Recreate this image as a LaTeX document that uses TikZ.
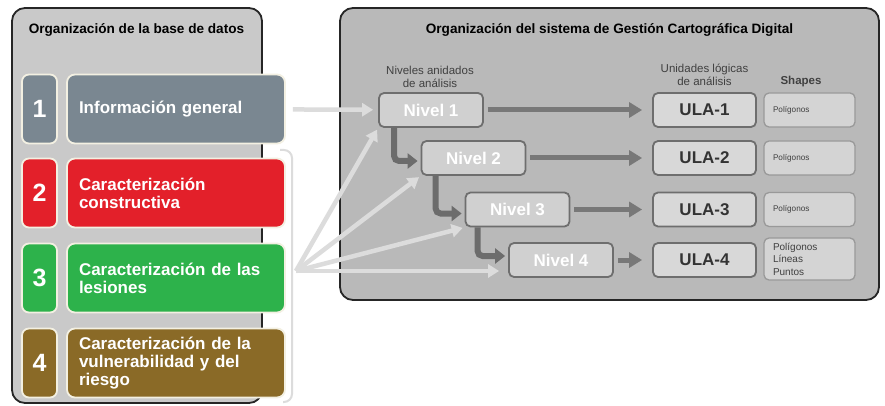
\documentclass[tikz,border=0pt]{standalone}
\usepackage{fontspec}
\setmainfont{Liberation Sans}
\usetikzlibrary{arrows.meta}

\definecolor{panelL}{HTML}{C9C9C9}
\definecolor{panelR}{HTML}{B9B9B9}
\definecolor{rim}{HTML}{F3F0E2}
\definecolor{cgen}{HTML}{7A8791}
\definecolor{cconst}{HTML}{E3202A}
\definecolor{cles}{HTML}{2DB24B}
\definecolor{criesgo}{HTML}{8A6A27}
\definecolor{nivfill}{HTML}{D0D0D0}
\definecolor{ulafill}{HTML}{D8D8D8}
\definecolor{shpfill}{HTML}{D4D4D4}
\definecolor{boxline}{HTML}{6E6E6E}
\definecolor{flowdark}{HTML}{787878}
\definecolor{flowlight}{HTML}{DCDCDC}

\tikzset{
  panel/.style={draw=black!85, line width=1.8pt, rounded corners=13pt},
  paneltitle/.style={font=\bfseries\fontsize{13.6}{15}\selectfont},
  hdr/.style={align=center, text=black!75, font=\fontsize{11.5}{13}\selectfont},
  numbox/.style={draw=rim, line width=1.8pt, rounded corners=7pt,
    minimum width=35pt, minimum height=69pt, inner sep=0pt,
    text=white, font=\bfseries\fontsize{25}{25}\selectfont},
  catbox/.style={draw=rim, line width=1.8pt, rounded corners=8pt,
    minimum height=69pt, text width=194pt, inner xsep=12pt, align=left,
    text=white, font=\bfseries\fontsize{17}{18}\selectfont},
  nivbox/.style={draw=boxline, line width=1.8pt, rounded corners=5pt, fill=nivfill,
    minimum width=104pt, minimum height=34pt, text=white,
    font=\bfseries\fontsize{17}{17}\selectfont},
  ulabox/.style={nivbox, fill=ulafill, minimum width=103pt, text=black!80},
  shpbox/.style={draw=black!40, line width=1.3pt, rounded corners=5pt, fill=shpfill,
    minimum width=91pt, minimum height=34pt, text width=73pt, inner xsep=9pt,
    align=left, text=black!75, font=\fontsize{8.2}{9}\selectfont},
  darrow/.style={draw=flowdark, line width=5pt, -{Triangle[length=13pt,width=15pt]},
    shorten <=4pt, shorten >=10pt},
  elbow/.style={draw=flowdark!90!black, line width=6pt, rounded corners=5pt,
    -{Triangle[length=10pt,width=15pt]}, shorten >=3pt},
  larrow/.style={draw=flowlight, line width=4.5pt, -{Triangle[length=11pt,width=13pt]}}
}

\begin{document}
\begin{tikzpicture}[x=1pt,y=-1pt]
\useasboundingbox[fill=white] (0,0) rectangle (885,406);

% the two panels
\draw[panel, fill=panelL] (12,8) rectangle (262,403);
\draw[panel, fill=panelR] (340,8) rectangle (879,300);
\node[paneltitle] (tleft) at (136.5,30) {Organización de la base de datos};
\node[paneltitle] (tright) at (609.5,30) {Organización del sistema de Gestión Cartográfica Digital};

% bracket round 2-4
\draw[flowlight, line width=2pt, rounded corners=8pt] (280,150) -| (292,402) -- (283,402);

% base de datos
\node[numbox, fill=cgen] (num1) at (39.5,109) {1};
\node[catbox, fill=cgen] (cat1) at (176,109) {Información general};
\node[numbox, fill=cconst] (num2) at (39.5,193) {2};
\node[catbox, fill=cconst] (cat2) at (176,193) {Caracterización\\constructiva};
\node[numbox, fill=cles] (num3) at (39.5,278) {3};
\node[catbox, fill=cles] (cat3) at (176,278) {Caracterización de las\\lesiones};
\node[numbox, fill=criesgo] (num4) at (39.5,363) {4};
\node[catbox, fill=criesgo] (cat4) at (176,363) {Caracterización de la\\vulnerabilidad y del\\riesgo};

% headers
\node[hdr] (hniv) at (430,77) {Niveles anidados\\de análisis};
\node[hdr] (hula) at (704.5,75) {Unidades lógicas\\de análisis};
\node[hdr, font=\bfseries\fontsize{11.5}{13}\selectfont] (hshp) at (801,82) {Shapes};

% niveles, ULA, shapes
\node[nivbox] (n1) at (431,110) {Nivel 1};
\node[nivbox] (n2) at (473.5,158) {Nivel 2};
\node[nivbox] (n3) at (517.5,209.5) {Nivel 3};
\node[nivbox] (n4) at (561,260) {Nivel 4};

\node[ulabox] (ula1) at (704.5,110) {ULA-1};
\node[ulabox] (ula2) at (704.5,158) {ULA-2};
\node[ulabox] (ula3) at (704.5,209.5) {ULA-3};
\node[ulabox] (ula4) at (704.5,260) {ULA-4};

\node[shpbox] (shp1) at (809.5,110) {Polígonos};
\node[shpbox] (shp2) at (809.5,158) {Polígonos};
\node[shpbox] (shp3) at (809.5,209.5) {Polígonos};
\node[shpbox, minimum height=42pt, font=\fontsize{10}{12.5}\selectfont] (shp4) at (809.5,259) {Polígonos\\Líneas\\Puntos};

% nivel -> ULA
\draw[darrow] (n1) -- (ula1);
\draw[darrow] (n2) -- (ula2);
\draw[darrow] (n3) -- (ula3);
\draw[darrow] (n4) -- (ula4);

% nested levels
\draw[elbow] ([xshift=16pt]n1.south west) |- ([yshift=-3pt]n2.west);
\draw[elbow] ([xshift=15pt]n2.south west) |- ([yshift=-4pt]n3.west);
\draw[elbow] ([xshift=13pt]n3.south west) |- ([yshift=4pt]n4.west);

% links from the database
\coordinate (fan) at (296,271);
\draw[larrow, shorten <=7pt, shorten >=5pt] (cat1) -- (n1);
\draw[larrow, shorten >=2pt] (fan) -- (n1.south west);
\draw[larrow, shorten >=2pt] (fan) -- (n2.south west);
\draw[larrow, shorten >=2pt] (fan) -- (n3.south west);
\draw[larrow, shorten >=9pt] (fan) -- ([yshift=-11pt]n4.west);
\end{tikzpicture}
\end{document}
